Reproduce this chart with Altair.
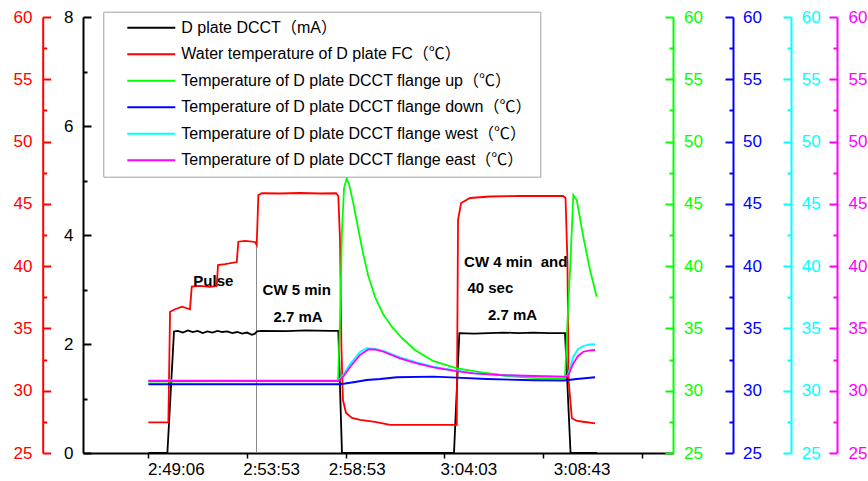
import altair as alt
import pandas as pd

# ---------------- data ----------------
SERIES = [
    "D plate DCCT（mA）",
    "Water temperature of D plate FC（℃）",
    "Temperature of D plate DCCT flange up（℃）",
    "Temperature of D plate DCCT flange down（℃）",
    "Temperature of D plate DCCT flange west（℃）",
    "Temperature of D plate DCCT flange east（℃）",
]
COLORS = ["#000000", "#ff0000", "#00ff00", "#0000ff", "#00ffff", "#ff00ff"]

# x is a sample index (ticks every 100 samples)
dcct_x = [100, 119.3, 126.0, 130, 135, 140, 145, 150, 155, 160, 165, 170, 175, 180, 185, 190, 195, 200, 205, 208, 210,
          215, 240, 260, 270, 285, 292.5, 296.2, 409.7, 415.1, 430, 445, 460, 475, 490, 505, 522.2, 527.8, 554.6]
dcct_y = [0, 0, 2.23, 2.24, 2.21, 2.25, 2.22, 2.24, 2.20, 2.23, 2.21, 2.24, 2.22, 2.23, 2.20, 2.22, 2.19, 2.21, 2.17, 2.19, 2.23,
          2.24, 2.235, 2.25, 2.245, 2.24, 2.24, 0, 0, 2.20, 2.19, 2.20, 2.21, 2.20, 2.21, 2.20, 2.20, 0, 0]

fc_x = [100, 120.3, 122.0, 127.1, 134.1, 142.2, 144.0, 152.4, 162.5, 169.3,
        170.6, 177.7, 189.6, 191.2, 198.0, 208.1, 209.8, 211.5, 215.2, 233.4,
        253.7, 273.9, 290.2, 292.5, 294.2, 295.7, 297.2, 300.3, 306.4, 314.5,
        329.7, 344.9, 375.3, 410.7, 412.5, 413.8, 416.9, 426.0, 446.3, 476.7,
        520.2, 522.7, 524.6, 525.8, 529.1, 534.4, 540.7, 552.6]
fc_y = [27.46, 27.46, 36.34, 36.54, 36.74, 36.54, 38.35, 38.41, 38.33, 38.41,
        40.09, 40.17, 40.33, 41.96, 42.02, 41.94, 41.70, 45.71, 45.85, 45.83,
        45.87, 45.83, 45.85, 45.63, 42.10, 33.27, 29.25, 28.21, 27.81, 27.65,
        27.49, 27.25, 27.25, 27.25, 27.25, 43.71, 45.07, 45.47, 45.59, 45.63,
        45.63, 45.47, 40.49, 30.86, 27.79, 27.57, 27.51, 27.38]

up_x = [100, 292.2, 294.2, 296.2, 298.3, 301.0, 303.3, 307.7, 312.5, 317.5,
        322.6, 329.7, 337.8, 346.9, 357.0, 370.2, 388.5, 412.8, 436.1, 463.4,
        491.8, 522.2, 524.6, 527.3, 530.6, 534.1, 540.7, 547.5, 554.3]
up_y = [30.74, 30.78, 35.68, 42.90, 46.27, 47.05, 46.60, 45.05, 43.06, 41.06,
        39.29, 37.52, 36.16, 35.12, 34.23, 33.27, 32.39, 31.80, 31.50, 31.18,
        31.02, 31.00, 35.44, 39.69, 45.71, 45.31, 42.36, 39.69, 37.55]

down_x = [100, 292.5, 299.3, 309.4, 321.3, 334.7, 351.7, 388.8, 412.5, 442.8, 490.1, 520.5, 534.1, 552.6]
down_y = [30.52, 30.52, 30.58, 30.70, 30.86, 30.94, 31.08, 31.13, 31.05, 30.94, 30.84, 30.82, 30.94, 31.08]

west_x = [100, 292.5, 297.3, 304.4, 314.5, 321.3, 329.7, 338.1, 355.0, 372.0, 388.8,
          409.0, 429.3, 456.3, 490.1, 522.2, 525.2, 530.6, 535.4, 540.7, 547.5, 552.6]
west_y = [30.82, 30.82, 31.26, 32.14, 33.11, 33.41, 33.35, 33.19, 32.67, 32.27, 31.94,
          31.66, 31.42, 31.26, 31.14, 31.10, 31.26, 32.73, 33.35, 33.59, 33.71, 33.73]

east_x = [100, 292.5, 297.3, 304.4, 314.5, 322.9, 329.7, 338.1, 355.0, 372.0, 388.8,
          409.0, 429.3, 456.3, 490.1, 522.2, 525.2, 530.6, 535.4, 540.7, 547.5, 552.6]
east_y = [30.78, 30.78, 31.10, 31.90, 32.87, 33.32, 33.31, 33.13, 32.60, 32.20, 31.88,
          31.61, 31.40, 31.26, 31.18, 31.13, 31.18, 32.20, 32.79, 33.13, 33.24, 33.27]

note_text = ["Pulse", "CW 5 min", "2.7 mA", "CW 4 min\u00a0 and", "40 sec", "2.7 mA"]
note_x = [165.9, 250.4, 251.7, 472.3, 446.5, 469.0]
note_y = [38.81, 38.09, 35.94, 40.36, 38.22, 36.08]

marker_x = [209.6]
marker_y = [25.0]
marker_y2 = [41.8]

tick_values = [100, 200, 300, 400, 500, 600]
tick_labels = ["2:49:06", "2:53:53", "2:58:53", "3:04:03", "3:08:43", ""]

# ---------------- build tables ----------------
xs_all = [dcct_x, fc_x, up_x, down_x, west_x, east_x]
ys_all = [dcct_y, fc_y, up_y, down_y, west_y, east_y]
rows = []
for name, xs, ys in zip(SERIES, xs_all, ys_all):
    for a, b in zip(xs, ys):
        rows.append({"series": name, "x": a, "y": b})
df = pd.DataFrame(rows)
notes = pd.DataFrame({"x": note_x, "y": note_y, "text": note_text})
marker = pd.DataFrame({"x": marker_x, "y": marker_y, "y2": marker_y2})

FONT = "Liberation Sans, Noto Sans CJK SC"
W, H = 590, 436
XDOM = [33.8, 631.6]
TDOM = [25, 60]
IDOM = [0, 8]
LABEL_SHIFT = [27.5, 24, 11, 24, 38.5, 0]

label_expr = "".join(f"datum.value === {v} ? '{t}' : " for v, t in zip(tick_values, tick_labels)) + "''"
offset_cond = {"condition": [{"test": f"datum.value === {v}", "value": o}
                             for v, o in zip(tick_values, LABEL_SHIFT)], "value": 0}

x_axis = alt.Axis(values=tick_values, labelExpr=label_expr, labelOffset=offset_cond, tickSize=5,
                  tickColor="black", tickWidth=1.5, domainColor="black", domainWidth=2,
                  labelFont=FONT, labelFontSize=17, labelColor="black", labelPadding=3,
                  grid=False, title=None, labelFlush=False, labelOverlap=False)
x_enc = alt.X("x:Q", scale=alt.Scale(domain=XDOM, nice=False, zero=False), axis=x_axis)

legend = alt.Legend(orient="none", legendX=20.3, legendY=-5.3, title=None,
                    symbolType="M-6,0H6", symbolSize=64, symbolStrokeWidth=2,
                    symbolOffset=32, labelOffset=22,
                    labelFont=FONT, labelFontSize=16, labelColor="black", labelLimit=0,
                    labelExpr="datum.label + '\u00a0\u00a0\u00a0\u00a0\u00a0\u00a0'",
                    padding=8, rowPadding=10.5, strokeColor="#a0a0a0", fillColor="white")
color_enc = alt.Color("series:N", scale=alt.Scale(domain=SERIES, range=COLORS), legend=legend)


def y_axis(color, orient, offset, pad, align, values, major):
    test = f"datum.value % {major} === 0"
    return alt.Axis(orient=orient, offset=offset, values=values,
                    labelExpr=f"{test} ? datum.label : ''",
                    tickSize={"condition": {"test": test, "value": 8}, "value": 4},
                    labelPadding=pad, labelAlign=align, labelBaseline="middle",
                    labelColor=color, tickColor=color, domainColor=color,
                    domainWidth=2, tickWidth=2, labelFont=FONT, labelFontSize=17,
                    grid=False, title=None, labelFlush=False, labelOverlap=False)


TVALS = [25 + 2.5 * k for k in range(15)]
IVALS = list(range(9))

axes = [
    y_axis("black", "right", -W, -18, "right", IVALS, 2),
    y_axis("#ff0000", "right", -W - 40.3, -18.7, "right", TVALS, 5),
    y_axis("#00ff00", "left", -W, -18.6, "left", TVALS, 5),
    y_axis("#0000ff", "left", -650, -17.5, "left", TVALS, 5),
    y_axis("#00ffff", "left", -708, -18.3, "left", TVALS, 5),
    y_axis("#ff00ff", "left", -754, -19, "left", TVALS, 5),
]
domains = [IDOM, TDOM, TDOM, TDOM, TDOM, TDOM]

layers = []
layers.append(
    alt.Chart(marker).mark_rule(color="#8c8c8c", strokeWidth=1).encode(
        x=x_enc,
        y=alt.Y("y:Q", scale=alt.Scale(domain=TDOM, nice=False, zero=False), axis=None),
        y2="y2:Q",
    )
)
for i in range(6):
    layers.append(
        alt.Chart(df).transform_filter(alt.datum.series == SERIES[i]).mark_line(strokeWidth=1.8).encode(
            x=x_enc,
            y=alt.Y("y:Q", scale=alt.Scale(domain=domains[i], nice=False, zero=False), axis=axes[i]),
            color=color_enc,
        )
    )
layers.append(
    alt.Chart(notes).mark_text(font=FONT, fontSize=15, fontWeight="bold", color="black",
                               align="center", baseline="middle").encode(
        x=x_enc,
        y=alt.Y("y:Q", scale=alt.Scale(domain=TDOM, nice=False, zero=False), axis=None),
        text="text:N",
    )
)

chart = alt.layer(*layers).resolve_scale(y="independent").properties(
    width=W, height=H,
    autosize=alt.AutoSizeParams(type="none"),
    padding={"left": 83, "top": 17, "right": 195, "bottom": 28},
    background="white",
).configure_view(stroke=None)

chart.save("out.html", embed_options={"renderer": "svg", "actions": False})
